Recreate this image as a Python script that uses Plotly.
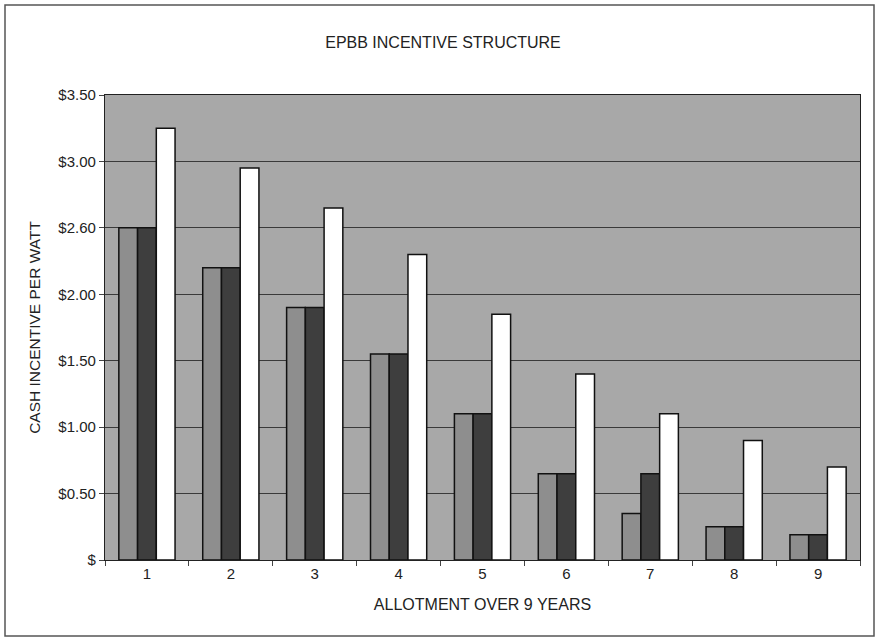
import plotly.graph_objects as go

categories = ["1", "2", "3", "4", "5", "6", "7", "8", "9"]
series_a = [2.50, 2.20, 1.90, 1.55, 1.10, 0.65, 0.35, 0.25, 0.19]
series_b = [2.50, 2.20, 1.90, 1.55, 1.10, 0.65, 0.65, 0.25, 0.19]
series_c = [3.25, 2.95, 2.65, 2.30, 1.85, 1.40, 1.10, 0.90, 0.70]
y_tick_vals = [0, 0.5, 1.0, 1.5, 2.0, 2.5, 3.0, 3.5]
y_tick_text = ["$", "$0.50", "$1.00", "$1.50", "$2.00", "$2.60", "$3.00", "$3.50"]

font_family = "Liberation Sans, Arial, sans-serif"

fig = go.Figure()
for name, vals, color in [("A", series_a, "#8e8e8e"),
                          ("B", series_b, "#3e3e3e"),
                          ("C", series_c, "#ffffff")]:
    fig.add_trace(go.Bar(
        x=categories, y=vals, name=name,
        marker=dict(color=color, line=dict(color="#111111", width=1.5)),
        showlegend=False,
    ))

fig.update_layout(
    width=878, height=640,
    margin=dict(l=105, r=18, t=95, b=80),
    paper_bgcolor="#ffffff",
    plot_bgcolor="#a8a8a8",
    barmode="group",
    bargap=0.33,
    bargroupgap=0,
    font=dict(family=font_family, size=15, color="#222222"),
    title=dict(text="EPBB INCENTIVE STRUCTURE", x=443/878, xanchor="center",
               xref="container", y=1 - 42/640, yanchor="middle",
               font=dict(family=font_family, size=16, color="#222222")),
    xaxis=dict(
        type="category",
        tickson="boundaries",
        ticks="outside", ticklen=5, tickcolor="#444444",
        showline=True, linecolor="#222222", linewidth=1.2, mirror=True,
        showgrid=False,
        tickfont=dict(size=15),
        title=dict(text="ALLOTMENT OVER 9 YEARS", standoff=17,
                   font=dict(size=16)),
    ),
    yaxis=dict(
        range=[0, 3.5],
        tickvals=y_tick_vals, ticktext=y_tick_text,
        ticks="outside", ticklen=5, tickcolor="#444444",
        showline=True, linecolor="#222222", linewidth=1.2, mirror=True,
        showgrid=True, gridcolor="#3a3a3a", gridwidth=1,
        zeroline=False,
        tickfont=dict(size=15),
        title=dict(text="CASH INCENTIVE PER WATT", standoff=13,
                   font=dict(size=15.5)),
    ),
    shapes=[dict(type="rect", xref="paper", yref="paper",
                 x0=-100/755, x1=769/755, y0=-76/465, y1=1 + 90/465,
                 line=dict(color="#555555", width=1.5), layer="below")],
)

fig.write_html("out.html", config={"displayModeBar": False},
               post_script="document.body.style.margin='0';")
